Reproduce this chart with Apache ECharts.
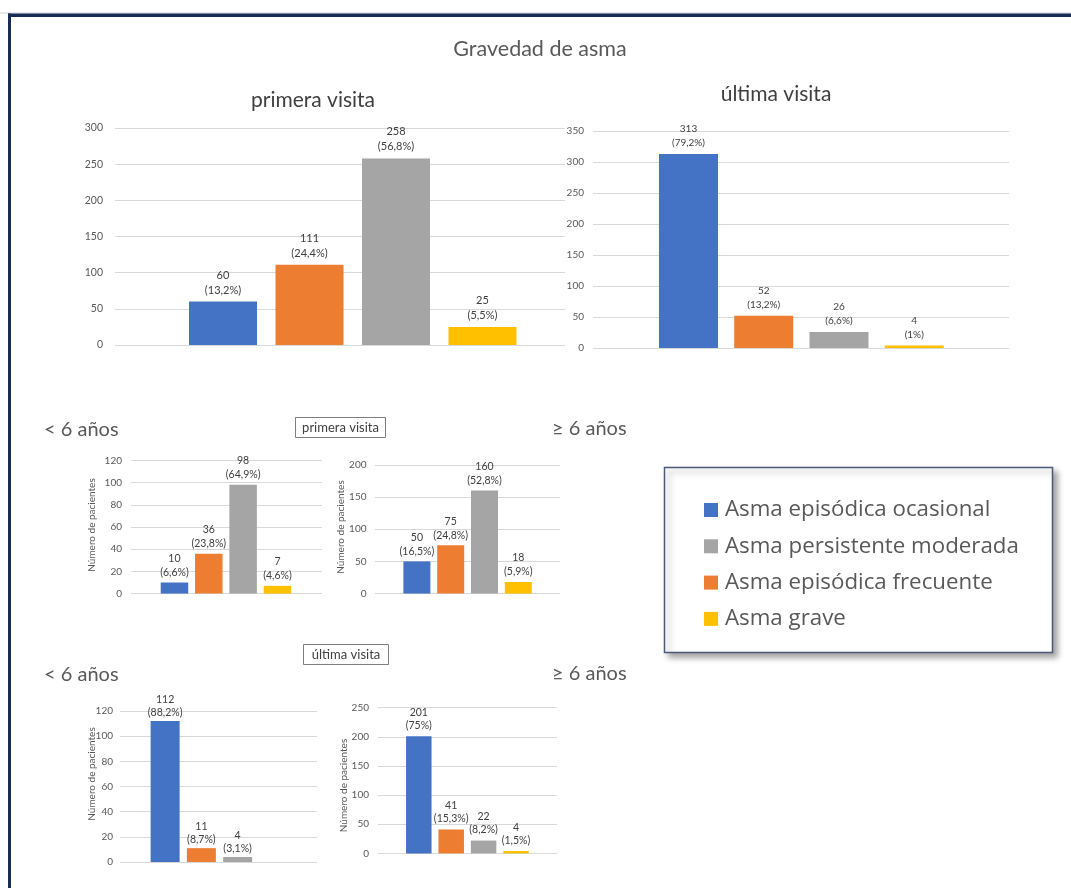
<!DOCTYPE html>
<html>
<head>
<meta charset="utf-8">
<script src="https://cdn.jsdelivr.net/npm/echarts@6/dist/echarts.min.js"></script>
<style>
  html, body { margin: 0; padding: 0; background: #ffffff; }
  #chart { width: 1071px; height: 888px; }
</style>
</head>
<body>
<div id="chart"></div>
<script>
// Severity classes in bar order, and the legend's own order
const severities = ['Asma episódica ocasional', 'Asma episódica frecuente', 'Asma persistente moderada', 'Asma grave'];
const legendOrder = ['Asma episódica ocasional', 'Asma persistente moderada', 'Asma episódica frecuente', 'Asma grave'];
const severityColors = ['#4472C4', '#ED7D31', '#A5A5A5', '#FFC000'];

// Patients per severity class
const primeraTotal = [60, 111, 258, 25];
const primeraTotalPct = ['13,2%', '24,4%', '56,8%', '5,5%'];
const ultimaTotal = [313, 52, 26, 4];
const ultimaTotalPct = ['79,2%', '13,2%', '6,6%', '1%'];
const primeraMenor6 = [10, 36, 98, 7];
const primeraMenor6Pct = ['6,6%', '23,8%', '64,9%', '4,6%'];
const primeraMayor6 = [50, 75, 160, 18];
const primeraMayor6Pct = ['16,5%', '24,8%', '52,8%', '5,9%'];
const ultimaMenor6 = [112, 11, 4, 0];
const ultimaMenor6Pct = ['88,2%', '8,7%', '3,1%', ''];
const ultimaMayor6 = [201, 41, 22, 4];
const ultimaMayor6Pct = ['75%', '15,3%', '8,2%', '1,5%'];

// Value-axis ranges per panel
const yMax = [300, 350, 120, 200, 120, 250];
const yStep = [50, 50, 20, 50, 20, 50];

const yTitle = 'Número de pacientes';
const FONT = 'Lato, "Open Sans", sans-serif';

// Panel layout: axis box (gridlines) and the narrower box the bars sit in
const panels = [
  { values: primeraTotal, pct: primeraTotalPct, axis: [115, 565, 128, 345], bars: [179.75, 346], barW: 68, tick: 10.5, lab: 11, lh: 15, gap: 4, margin: 12 },
  { values: ultimaTotal, pct: ultimaTotalPct, axis: [593, 1009, 131, 348], bars: [650.85, 301], barW: 59, tick: 10, lab: 10, lh: 14, gap: 4, margin: 9 },
  { values: primeraMenor6, pct: primeraMenor6Pct, axis: [131, 322, 460.4, 593.6], bars: [157.3, 137.3], barW: 27.5, tick: 10, lab: 10.5, lh: 14, gap: 3, margin: 9, title: [92, 525] },
  { values: primeraMayor6, pct: primeraMayor6Pct, axis: [375, 560, 464.8, 593.6], bars: [400, 135.2], barW: 27, tick: 10, lab: 10.5, lh: 14, gap: 3, margin: 8.5, title: [341, 527] },
  { values: ultimaMenor6, pct: ultimaMenor6Pct, axis: [120, 317, 711, 862], bars: [147, 145], barW: 29, tick: 10, lab: 10.5, lh: 13, gap: 2, margin: 7, title: [92, 774] },
  { values: ultimaMayor6, pct: ultimaMayor6Pct, axis: [378, 557, 707.6, 853.4], bars: [402.6, 129.6], barW: 25.5, tick: 10, lab: 10.5, lh: 13, gap: 4, margin: 9, title: [343.5, 785.5] }
];

const grid = [], xAxis = [], yAxis = [], series = [];

panels.forEach((p, i) => {
  const [l, r, t, b] = p.axis;
  // grid 2i: gridlines and tick labels
  grid.push({ left: l, top: t, width: r - l, height: b - t });
  xAxis.push({ gridIndex: 2 * i, type: 'category', data: [''], show: false });
  yAxis.push({
    gridIndex: 2 * i, type: 'value', min: 0, max: yMax[i], interval: yStep[i],
    axisLine: { show: false }, axisTick: { show: false },
    axisLabel: { color: '#595959', fontSize: p.tick, fontFamily: FONT, margin: p.margin },
    splitLine: { lineStyle: { color: '#d9d9d9', width: 1 } }
  });
  // grid 2i+1: the bars
  grid.push({ left: p.bars[0], top: t, width: p.bars[1], height: b - t });
  xAxis.push({ gridIndex: 2 * i + 1, type: 'category', data: severities, show: false });
  yAxis.push({ gridIndex: 2 * i + 1, type: 'value', min: 0, max: yMax[i], interval: yStep[i], show: false });

  severities.forEach((name, s) => {
    const data = severities.map((_, k) => {
      if (k !== s) return '-';
      const v = p.values[k];
      return v === 0 ? { value: v, label: { show: false } } : v;
    });
    series.push({
      type: 'bar', name, xAxisIndex: 2 * i + 1, yAxisIndex: 2 * i + 1,
      stack: 'panel' + i, barWidth: p.barW, data,
      itemStyle: { color: severityColors[s] },
      label: {
        show: true, position: 'top', distance: p.gap,
        color: '#404040', fontSize: p.lab, fontFamily: FONT, lineHeight: p.lh,
        formatter: (d) => d.value + '\n(' + p.pct[d.dataIndex] + ')'
      },
      emphasis: { disabled: true }
    });
  });
});

function text(x, y, str, size, fill, align) {
  return {
    type: 'text', x, y, silent: true,
    style: { text: str, fontSize: size, fontFamily: FONT, fill: fill || '#595959', align: align || 'center', verticalAlign: 'middle' }
  };
}

const graphic = [
  // page frame
  { type: 'rect', shape: { x: 0, y: 12.5, width: 1071, height: 1 }, style: { fill: '#cfd3da' }, silent: true },
  { type: 'rect', shape: { x: 8, y: 13.5, width: 1063, height: 3.5 }, style: { fill: '#182d55' }, silent: true },
  { type: 'rect', shape: { x: 8, y: 13.5, width: 3, height: 875 }, style: { fill: '#182d55' }, silent: true },
  // headings
  text(540, 49, 'Gravedad de asma', 21.5),
  text(313, 100, 'primera visita', 21, '#404040'),
  text(776, 94, 'última visita', 21, '#404040'),
  // age group labels
  text(44, 430, '< 6 años', 20, '#595959', 'left'),
  text(552, 429, '≥ 6 años', 20, '#595959', 'left'),
  text(44, 675, '< 6 años', 20, '#595959', 'left'),
  text(552, 674, '≥ 6 años', 20, '#595959', 'left'),
  // boxed visit captions
  { type: 'rect', shape: { x: 295.5, y: 417.5, width: 90, height: 20 }, style: { fill: '#fff', stroke: '#7f7f7f', lineWidth: 1 }, silent: true },
  text(340.5, 427.5, 'primera visita', 13, '#404040'),
  { type: 'rect', shape: { x: 303.5, y: 644.5, width: 85, height: 20 }, style: { fill: '#fff', stroke: '#7f7f7f', lineWidth: 1 }, silent: true },
  text(346, 654.5, 'última visita', 13, '#404040'),
  // legend frame
  { type: 'rect', shape: { x: 664.5, y: 467.5, width: 388, height: 185 },
    style: { fill: '#ffffff', stroke: '#4b5a78', lineWidth: 1.5, shadowBlur: 6, shadowOffsetX: 4, shadowOffsetY: 4, shadowColor: 'rgba(0,0,0,0.35)' },
    silent: true, z: -1 }
];

// vertical axis titles of the small panels
panels.forEach((p) => {
  if (!p.title) return;
  graphic.push({
    type: 'text', x: p.title[0], y: p.title[1], rotation: Math.PI / 2, silent: true,
    style: { text: yTitle, fontSize: 10, fontFamily: FONT, fill: '#595959', align: 'center', verticalAlign: 'middle' }
  });
});

const chart = echarts.init(document.getElementById('chart'), null, { renderer: 'canvas' });
chart.setOption({
  backgroundColor: '#ffffff',
  animation: false,
  grid, xAxis, yAxis, series, graphic,
  legend: {
    data: legendOrder, orient: 'vertical', left: 704, top: 499, padding: 0,
    itemWidth: 14, itemHeight: 14, itemGap: 14.3, icon: 'rect',
    selectedMode: false,
    textStyle: { color: '#595959', fontSize: 22.3, fontFamily: '"Open Sans", sans-serif', lineHeight: 22, padding: [0, 0, 0, 2] }
  }
});
</script>
</body>
</html>
